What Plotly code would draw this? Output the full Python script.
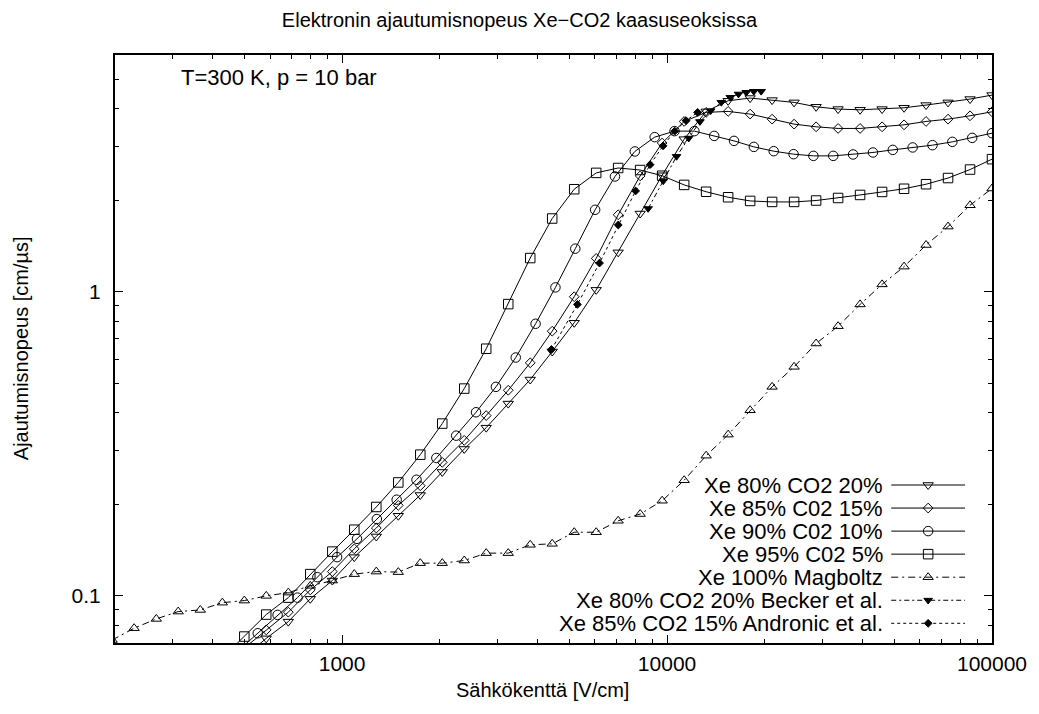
import plotly.graph_objects as go

# ---------------------------------------------------------------- data
# Drift field values (V/cm) of the simulated mixtures
E_GRID = [500, 584, 683, 798, 933, 1090, 1274, 1489, 1740, 2033, 2376, 2776,
          3245, 3792, 4431, 5179, 6052, 7072, 8265, 9659, 11288, 13191, 15416,
          18015, 21053, 24604, 28753, 33602, 39268, 45890, 53629, 62673,
          73242, 85593, 100000]
E_LOW = [196, 229, 268, 313, 366, 428]

# Xe 80% CO2 20%
E_XE80 = E_GRID
V_XE80 = [0.0630, 0.0725, 0.0823, 0.0978, 0.1123, 0.1341, 0.1568, 0.1834,
          0.2146, 0.2555, 0.3041, 0.3573, 0.4287, 0.5143, 0.6358, 0.7904,
          1.014, 1.347, 1.807, 2.415, 3.173, 3.915, 4.243, 4.331, 4.265,
          4.191, 4.054, 3.984, 3.963, 3.984, 4.024, 4.107, 4.191, 4.298, 4.430]

# Xe 85% CO2 15%
E_XE85 = E_GRID
V_XE85 = [0.0674, 0.0773, 0.0884, 0.1046, 0.1202, 0.1428, 0.1671, 0.1984,
          0.2302, 0.2748, 0.3246, 0.3915, 0.4742, 0.5837, 0.7418, 0.9628,
          1.287, 1.790, 2.403, 3.083, 3.628, 3.886, 3.915, 3.836, 3.692,
          3.555, 3.484, 3.441, 3.441, 3.484, 3.537, 3.628, 3.692, 3.787, 3.903]

# Xe 90% CO2 10%
E_XE90 = [478, 550, 633, 729, 839, 965, 1111, 1279, 1472, 1694, 1950, 2244,
          2583, 2974, 3422, 3939, 4534, 5219, 6007, 6914, 7958, 9160, 10543,
          12135, 13964, 16073, 18500, 21294, 24509, 28210, 32469, 37372,
          43015, 49511, 56988, 65593, 75500, 86900, 100000]
V_XE90 = [0.0659, 0.07536, 0.0866, 0.0987, 0.1152, 0.1341, 0.1540, 0.1789,
          0.2071, 0.2409, 0.2840, 0.3363, 0.4015, 0.4866, 0.6076, 0.7845,
          1.033, 1.385, 1.859, 2.392, 2.891, 3.222, 3.372, 3.372, 3.253,
          3.132, 2.993, 2.897, 2.832, 2.796, 2.796, 2.826, 2.869, 2.926,
          2.980, 3.032, 3.109, 3.204, 3.320]

# Xe 95% CO2 5%
E_XE95 = [428] + E_GRID
V_XE95 = [0.0625, 0.0735, 0.0868, 0.0987, 0.1179, 0.1398, 0.1650, 0.1960,
          0.2360, 0.2912, 0.3685, 0.4803, 0.6494, 0.9104, 1.290, 1.740,
          2.172, 2.458, 2.551, 2.512, 2.406, 2.244, 2.131, 2.044, 1.988,
          1.973, 1.973, 1.994, 2.033, 2.080, 2.128, 2.180, 2.256, 2.364,
          2.521, 2.727]

# Pure xenon, Magboltz
E_XE100 = E_LOW + E_GRID
V_XE100 = [0.0716, 0.0783, 0.0840, 0.0888, 0.0899, 0.0950, 0.0965, 0.1000,
           0.1025, 0.1079, 0.1123, 0.1179, 0.1202, 0.1197, 0.1281, 0.1281,
           0.1307, 0.1382, 0.1382, 0.1472, 0.1483, 0.1619, 0.1619, 0.1766,
           0.1858, 0.2055, 0.2400, 0.2890, 0.3389, 0.4076, 0.4866, 0.5662,
           0.6756, 0.7702, 0.9082, 1.057, 1.209, 1.424, 1.637, 1.924, 2.184]

# Measurements: Becker et al. (Xe/CO2 80/20)
E_BECKER = [8744, 9735, 10694, 11658, 12624, 13617, 14687, 15652, 16594,
            17524, 18489, 19481]
V_BECKER = [1.876, 2.313, 2.783, 3.197, 3.623, 3.933, 4.191, 4.354, 4.463,
            4.521, 4.556, 4.556]

# Measurements: Andronic et al. (Xe/CO2 85/15)
E_ANDRONIC = [4408, 5297, 6196, 7076, 8002, 8868, 9722, 10559, 11438, 12420]
V_ANDRONIC = [0.6456, 0.9082, 1.242, 1.657, 2.144, 2.616, 3.016, 3.372,
              3.651, 3.886]

LABELS = ["Xe 80% CO2 20%", "Xe 85% C02 15%", "Xe 90% C02 10%",
          "Xe 95% C02 5%", "Xe 100% Magboltz",
          "Xe 80% CO2 20% Becker et al.", "Xe 85% CO2 15% Andronic et al."]

X_TICKS = [1000, 10000, 100000]
X_TICKTEXT = ["1000", "10000", "100000"]
Y_TICKS = [0.1, 1]
Y_TICKTEXT = ["0.1", "1"]

# ---------------------------------------------------------------- style
FONT = "Liberation Sans, Arial, Helvetica, sans-serif"
W, H = 1039, 714
L, R, T, B = 115, 45, 55, 71
PW, PH = W - L - R, H - T - B


def paper_x(px):
    """Canvas pixel column -> paper coordinate."""
    return (px - L) / PW


def paper_y(py):
    """Canvas pixel row -> paper coordinate."""
    return (H - B - py) / PH


series = [
    (E_XE80, V_XE80, "triangle-down-open", 9, "solid"),
    (E_XE85, V_XE85, "diamond-open", 7.5, "solid"),
    (E_XE90, V_XE90, "circle-open", 9.5, "solid"),
    (E_XE95, V_XE95, "square-open", 9.5, "solid"),
    (E_XE100, V_XE100, "triangle-up-open", 9, "7px,4px,2px,4px"),
    (E_BECKER, V_BECKER, "triangle-down", 7.5, "5px,3px,2px,3px"),
    (E_ANDRONIC, V_ANDRONIC, "diamond", 6, "3px,3px"),
]

fig = go.Figure()
for (E, V, sym, size, dash), name in zip(series, LABELS):
    fig.add_trace(go.Scatter(
        x=E, y=V, name=name, mode="lines+markers", showlegend=False,
        line=dict(color="black", width=1, dash=dash),
        marker=dict(symbol=sym, size=size, color="black",
                    line=dict(color="black", width=1)),
        cliponaxis=True,
    ))

# Key in the lower right: right-aligned text followed by a line sample
row0, row_step = 485, 23.05
for i, ((E, V, sym, size, dash), name) in enumerate(zip(series, LABELS)):
    yy = row0 + i * row_step
    fig.add_trace(go.Scatter(
        x=[893, 967], y=[yy, yy], mode="lines", xaxis="x2", yaxis="y2",
        line=dict(color="black", width=1, dash=dash), showlegend=False,
        hoverinfo="skip"))
    fig.add_trace(go.Scatter(
        x=[930], y=[yy], mode="markers", xaxis="x2", yaxis="y2",
        marker=dict(symbol=sym, size=size, color="black",
                    line=dict(color="black", width=1)),
        showlegend=False, hoverinfo="skip"))
    fig.add_annotation(x=paper_x(887), y=paper_y(yy), xref="paper",
                       yref="paper", text=name, showarrow=False,
                       xanchor="right", yanchor="middle",
                       font=dict(family=FONT, size=22, color="black"))

fig.add_annotation(x=paper_x(179), y=paper_y(77), xref="paper", yref="paper",
                   text="T=300 K, p = 10 bar", showarrow=False,
                   xanchor="left", yanchor="middle",
                   font=dict(family=FONT, size=22, color="black"))
fig.add_annotation(x=paper_x(543), y=paper_y(690), xref="paper",
                   yref="paper", text="Sähkökenttä [V/cm]", showarrow=False,
                   xanchor="center", yanchor="middle",
                   font=dict(family=FONT, size=20, color="black"))
fig.add_annotation(x=paper_x(21), y=paper_y(348), xref="paper",
                   yref="paper", text="Ajautumisnopeus [cm/µs]",
                   showarrow=False, textangle=-90, xanchor="center",
                   yanchor="middle",
                   font=dict(family=FONT, size=20, color="black"))

x_minor = [m * 10 ** e for e in (2, 3, 4) for m in range(2, 10)]
y_minor = [m * 10.0 ** e for e in (-2, -1, 0) for m in range(2, 10)]

axis_common = dict(
    showline=True, linecolor="black", linewidth=2, mirror="ticks",
    ticks="inside", ticklen=8, tickwidth=1, tickcolor="black",
    showgrid=False, zeroline=False,
    tickfont=dict(family=FONT, size=21, color="black"),
)

fig.update_layout(
    width=W, height=H,
    margin=dict(l=L, r=R, t=T, b=B, pad=0),
    paper_bgcolor="white", plot_bgcolor="white",
    title=dict(text="Elektronin ajautumisnopeus Xe\u2212CO2 kaasuseoksissa",
               x=0.5, xanchor="center", y=1 - 20 / H, yanchor="middle",
               font=dict(family=FONT, size=20, color="black")),
    xaxis=dict(type="log", range=[2.30103, 5], tickmode="array",
               tickvals=X_TICKS, ticktext=X_TICKTEXT, ticklabelstandoff=1,
               minor=dict(tickmode="array", tickvals=x_minor,
                          ticks="inside", ticklen=4, tickcolor="black",
                          showgrid=False),
               **axis_common),
    yaxis=dict(type="log", range=[-1.154902, 0.778151], tickmode="array",
               tickvals=Y_TICKS, ticktext=Y_TICKTEXT, ticklabelstandoff=8,
               minor=dict(tickmode="array", tickvals=y_minor,
                          ticks="inside", ticklen=4, tickcolor="black",
                          showgrid=False),
               **axis_common),
    xaxis2=dict(overlaying="x", range=[L, W - R], visible=False,
                anchor="y2", fixedrange=True),
    yaxis2=dict(overlaying="y", range=[H - B, T], visible=False,
                anchor="x2", fixedrange=True),
    showlegend=False,
)

fig.write_html("out.html")
